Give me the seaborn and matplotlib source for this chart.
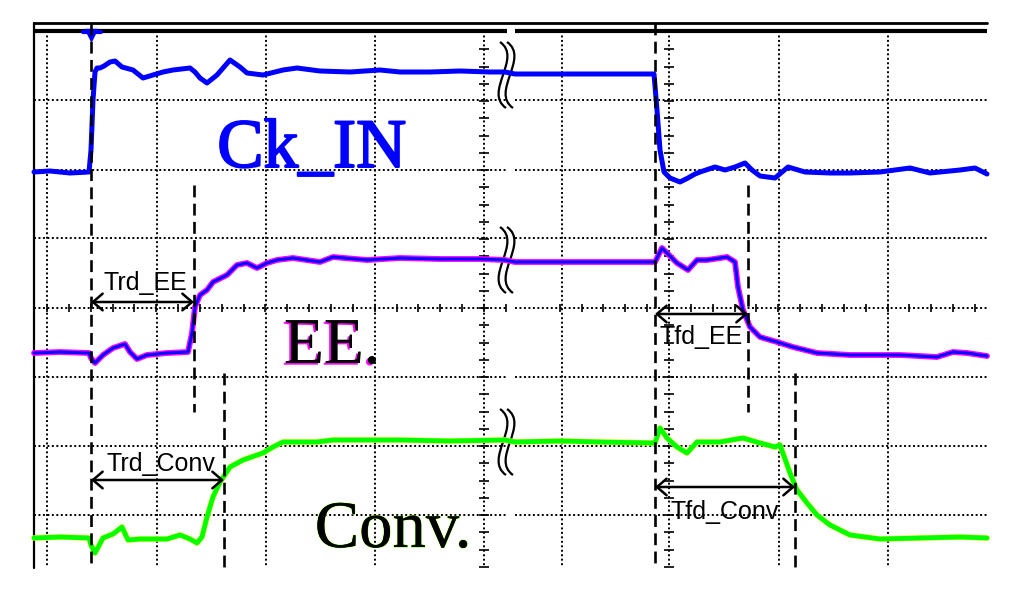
import matplotlib
matplotlib.use("Agg")
import matplotlib.pyplot as plt
import matplotlib.patheffects as pe
from matplotlib.path import Path
from matplotlib.patches import PathPatch
import numpy as np
import pandas as pd
import seaborn as sns

sns.set_theme(style="white")
plt.rcParams["font.family"] = ["Liberation Sans", "DejaVu Sans"]

# screen coordinates (x right, y down)
ck_x = [34, 50, 70, 89, 91, 93, 95, 97, 100, 104, 110, 115, 122, 133, 143, 153, 163, 173, 190,
        195, 200, 207, 217, 230, 240, 247, 263, 283, 297, 320, 350, 380, 400, 430, 460, 490, 505,
        515, 560, 600, 640, 654, 657, 660, 664, 670, 680, 688, 695, 700, 715, 725, 735, 745,
        752, 760, 775, 788, 805, 830, 850, 880, 910, 930, 960, 975, 987]
ck_y = [172, 171, 173, 172, 150, 100, 72, 68, 68, 66, 62, 61, 67, 70, 78, 75, 72, 70, 68,
        72, 78, 83, 75, 60, 67, 73, 75, 70, 68, 71, 72, 70, 72, 72, 71, 72, 72,
        74, 74, 74, 74, 74, 110, 150, 172, 178, 182, 178, 174, 172, 167, 170, 167, 163,
        170, 176, 178, 167, 172, 173, 173, 172, 168, 173, 170, 168, 174]

ee_x = [34, 60, 89, 91, 95, 103, 113, 125, 130, 137, 147, 167, 188, 192, 195, 200, 207, 213,
        227, 237, 247, 257, 267, 277, 293, 320, 333, 367, 400, 440, 480, 505,
        515, 560, 600, 640, 655, 662, 667, 677, 688, 697, 707, 727, 735, 738, 743, 750, 760,
        777, 793, 817, 850, 900, 937, 953, 967, 987]
ee_y = [353, 352, 353, 358, 363, 355, 348, 344, 352, 359, 355, 353, 352, 333, 307, 295, 290, 282,
        275, 265, 263, 268, 263, 260, 258, 262, 257, 260, 258, 259, 259, 260,
        262, 262, 262, 262, 262, 248, 253, 263, 270, 260, 260, 257, 262, 287, 310, 327, 337,
        342, 347, 353, 355, 355, 357, 352, 353, 356]

conv_x = [34, 60, 89, 91, 95, 103, 113, 122, 128, 140, 167, 180, 190, 197, 202, 207, 213, 220,
          230, 243, 263, 273, 283, 317, 333, 400, 450, 505,
          515, 560, 600, 655, 660, 667, 677, 687, 697, 720, 743, 760, 775, 780, 790, 797, 807,
          817, 830, 850, 880, 920, 960, 987]
conv_y = [538, 537, 538, 545, 553, 538, 534, 527, 540, 539, 539, 535, 539, 543, 537, 517, 497, 482,
          467, 460, 453, 447, 442, 442, 440, 440, 441, 440,
          442, 441, 442, 443, 428, 438, 447, 453, 442, 442, 438, 443, 447, 445, 473, 490, 503,
          515, 525, 535, 539, 538, 537, 538]

# graticule
grid_x_left = [47, 157, 266, 375]
grid_x_right = [562, 779, 888]
center_x = [484, 669]
grid_y = [100, 170, 238, 377, 446, 515]
center_y = 308

# timing markers: x, top, bottom
marker_x = [91, 194, 224, 655, 748, 795]
marker_top = [23, 185, 373, 23, 185, 373]
marker_bot = [567, 412, 567, 567, 412, 567]

# measurement arrows
meas_names = ["Trd_EE", "Tfd_EE", "Trd_Conv", "Tfd_Conv"]
meas_x0 = [91, 655, 91, 655]
meas_x1 = [194, 748, 224, 795]
meas_y = [302, 314, 480, 487]
label_x = [145, 701, 161, 725]
label_y = [290, 344, 471, 519]

break_y = [75, 260, 442]

fig = plt.figure(figsize=(10.24, 6.07), dpi=100)
ax = fig.add_axes([0, 0, 1, 1])

dot = (0, (1, 1.3))
L0, L1, R0, R1 = 34, 507, 515, 987
top, bot = 31, 567

ax.vlines(grid_x_left + grid_x_right + center_x, top, bot, colors="black", lw=1.4, linestyles=[dot])
ax.hlines(grid_y + [center_y], L0, L1, colors="black", lw=1.4, linestyles=[dot])
ax.hlines(grid_y + [center_y], R0, R1, colors="black", lw=1.4, linestyles=[dot])

# minor ticks on the centre axes
for cx in center_x:
    ty = np.arange(center_y - 16 * 17.25, bot, 17.25)
    ty = ty[(ty > top) & (ty < bot)]
    ax.hlines(ty, cx - 5, cx + 5, colors="black", lw=1.2)
tx = np.concatenate([np.arange(47, L1, 21.85), np.arange(669 - 5 * 21.85, R1, 21.85)])
tx = tx[((tx > L0) & (tx < L1)) | ((tx > R0) & (tx < R1))]
ax.vlines(tx, center_y - 4, center_y + 4, colors="black", lw=1.2)

# frame
ax.plot([L0, R1], [23, 23], color="black", lw=2)
ax.plot([L0, L1], [top, top], color="black", lw=3, solid_capstyle="butt")
ax.plot([R0, R1], [top, top], color="black", lw=3, solid_capstyle="butt")
ax.plot([L0, L0], [23, 568], color="black", lw=1.6)

# traces
ck = pd.DataFrame({"x": ck_x, "y": ck_y})
ee = pd.DataFrame({"x": ee_x, "y": ee_y})
conv = pd.DataFrame({"x": conv_x, "y": conv_y})
sns.lineplot(data=ck, x="x", y="y", sort=False, estimator=None, color="#0000ff", lw=3.6, ax=ax)
sns.lineplot(data=ee, x="x", y="y", sort=False, estimator=None, color="#ff00ff", lw=4.2, ax=ax)
sns.lineplot(data=ee, x="x", y="y", sort=False, estimator=None, color="#0000ff", lw=2.2, ax=ax)
sns.lineplot(data=conv, x="x", y="y", sort=False, estimator=None, color="#e8ff00", lw=4.0, ax=ax)
sns.lineplot(data=conv, x="x", y="y", sort=False, estimator=None, color="#00ff00", lw=3.4, ax=ax)
ax.set_xlim(0, 1024)
ax.set_ylim(607, 0)
ax.axis("off")

ax.plot([83, 101], [32, 32], color="#0000ff", lw=3)
ax.plot([91], [35], marker="v", color="#0000ff", markersize=8)

# timing markers
for x, y0, y1 in zip(marker_x, marker_top, marker_bot):
    ax.plot([x, x], [y0, y1], color="black", lw=1.9, linestyle=(0, (4.5, 2.4)))

# break symbols
codes = [Path.MOVETO, Path.CURVE4, Path.CURVE4, Path.CURVE4]
for cy in break_y:
    for dx, col, w in [(3.5, "white", 7), (0, "black", 1.6), (7, "black", 1.6)]:
        cx = 503 + dx
        verts = [(cx - 3, cy - 33), (cx + 20, cy - 17), (cx - 20, cy + 17), (cx + 3, cy + 33)]
        ax.add_patch(PathPatch(Path(verts, codes), fill=False, edgecolor=col, lw=w))

# measurement arrows
for name, x0, x1, y, lx, ly in zip(meas_names, meas_x0, meas_x1, meas_y, label_x, label_y):
    ax.annotate("", xy=(x1, y), xytext=(x0, y),
                arrowprops=dict(arrowstyle="<->,head_length=0.35,head_width=0.3",
                                mutation_scale=20, lw=1.8, color="black",
                                shrinkA=0, shrinkB=0))
    ax.text(lx, ly, name, ha="center", va="baseline", fontsize=18, color="black")

serif = ["Liberation Serif", "DejaVu Serif"]
ax.text(312, 167, "Ck_IN", ha="center", va="baseline", fontsize=50, color="#0000ff",
        family=serif, path_effects=[pe.withStroke(linewidth=1.4, foreground="#0000ff")])
ax.text(332, 363, "EE.", ha="center", va="baseline", fontsize=47, color="black", family=serif,
        path_effects=[pe.withSimplePatchShadow(offset=(-1.5, -1.2), shadow_rgbFace="#ff00ff", alpha=1),
                      pe.Normal()])
ax.text(393, 547, "Conv.", ha="center", va="baseline", fontsize=48, color="black", family=serif,
        path_effects=[pe.withStroke(linewidth=0.7, foreground="#7cff00"), pe.Normal()])

fig.savefig("out.png", dpi=100)
